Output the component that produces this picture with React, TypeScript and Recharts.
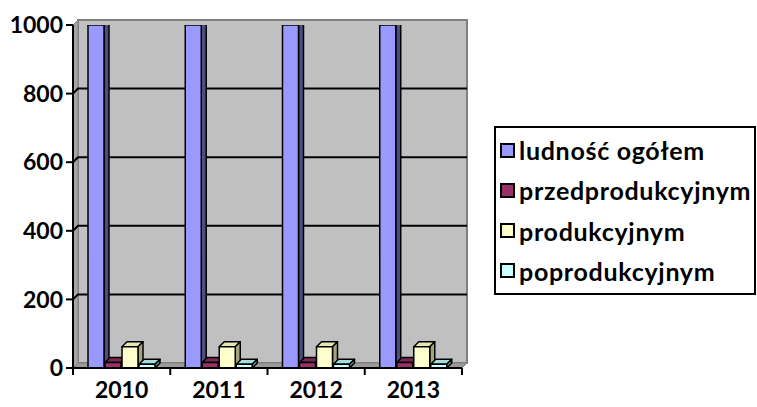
import { BarChart, Bar, XAxis, YAxis } from "recharts";

const years = ["2010", "2011", "2012", "2013"];
const ludnoscOgolem = [1000, 1000, 1000, 1000];
const przedprodukcyjnym = [16, 16, 16, 16];
const produkcyjnym = [62, 62, 62, 62];
const poprodukcyjnym = [11, 11, 11, 11];
const yTicks = [0, 200, 400, 600, 800, 1000];

const series = [
  { key: "ludnosc", name: "ludność ogółem", front: "#9999ff", top: "#7f7fd6", side: "#4d4d80" },
  { key: "przed", name: "przedprodukcyjnym", front: "#993366", top: "#7a2952", side: "#4d1933" },
  { key: "prod", name: "produkcyjnym", front: "#ffffcc", top: "#e6e6b8", side: "#a3a37f" },
  { key: "popr", name: "poprodukcyjnym", front: "#ccffff", top: "#a6dede", side: "#6f9f9f" },
];

const data = years.map((year, i) => ({
  year,
  ludnosc: ludnoscOgolem[i],
  przed: przedprodukcyjnym[i],
  prod: produkcyjnym[i],
  popr: poprodukcyjnym[i],
}));

// plot geometry
const W = 757;
const H = 407;
const LEFT = 73;
const RIGHT = 462;
const TOP = 25;
const BOTTOM = 368;
const D = 5; // 3d depth
const FONT = "Lato, 'Open Sans', sans-serif";

const yPix = (v: number) => BOTTOM - (v / 1000) * (BOTTOM - TOP);

function Walls() {
  return (
    <svg width={W} height={H} style={{ position: "absolute", left: 0, top: 0 }}>
      <rect x={LEFT + D} y={TOP - D} width={RIGHT - LEFT} height={BOTTOM - TOP} fill="#c0c0c0" stroke="#808080" strokeWidth={2} />
      <polygon
        points={`${LEFT},${TOP} ${LEFT + D},${TOP - D} ${LEFT + D},${BOTTOM - D} ${LEFT},${BOTTOM}`}
        fill="#a6a6a6"
        stroke="#808080"
        strokeWidth={1}
      />
      <polygon
        points={`${LEFT},${BOTTOM} ${LEFT + D},${BOTTOM - D} ${RIGHT + D},${BOTTOM - D} ${RIGHT},${BOTTOM}`}
        fill="#9a9a9a"
        stroke="#808080"
        strokeWidth={1}
      />
      {yTicks
        .filter((v) => v > 0 && v < 1000)
        .map((v) => (
          <polyline
            key={v}
            points={`${LEFT},${yPix(v)} ${LEFT + D},${yPix(v) - D} ${RIGHT + D},${yPix(v) - D}`}
            fill="none"
            stroke="#000"
            strokeWidth={2}
          />
        ))}
    </svg>
  );
}

function Bar3D(props: any) {
  const { x, y, width, height, colors } = props;
  if (!height || height <= 0) return null;
  const d = 5;
  return (
    <g stroke="#000" strokeWidth={1.5} strokeLinejoin="round">
      <polygon
        points={`${x},${y} ${x + d},${y - d} ${x + width + d},${y - d} ${x + width},${y}`}
        fill={colors.top}
      />
      <polygon
        points={`${x + width},${y} ${x + width + d},${y - d} ${x + width + d},${y + height - d} ${x + width},${y + height}`}
        fill={colors.side}
      />
      <rect x={x} y={y} width={width} height={height} fill={colors.front} />
    </g>
  );
}

function XTick(props: any) {
  const { x, payload, index } = props;
  const band = (RIGHT - LEFT) / years.length;
  return (
    <g>
      <line x1={x - band / 2} y1={BOTTOM} x2={x - band / 2} y2={BOTTOM + 7} stroke="#000" strokeWidth={2} />
      {index === years.length - 1 && (
        <line x1={x + band / 2} y1={BOTTOM} x2={x + band / 2} y2={BOTTOM + 7} stroke="#000" strokeWidth={2} />
      )}
      <text x={x} y={BOTTOM + 30} textAnchor="middle" fontFamily={FONT} fontWeight={700} fontSize={23} fill="#000">
        {payload.value}
      </text>
    </g>
  );
}

export default function App() {
  return (
    <div style={{ position: "absolute", left: 0, top: 0, width: W, height: H, background: "#fff", overflow: "hidden" }}>
      <Walls />
      <div style={{ position: "absolute", left: 0, top: 0 }}>
        <BarChart
          width={W}
          height={H}
          data={data}
          margin={{ top: TOP, right: W - RIGHT, bottom: 0, left: 0 }}
          barSize={16}
          barGap={1}
        >
          <XAxis
            dataKey="year"
            height={H - BOTTOM}
            axisLine={{ stroke: "#000", strokeWidth: 2 }}
            tickLine={false}
            tick={<XTick />}
            interval={0}
          />
          <YAxis
            width={LEFT}
            domain={[0, 1000]}
            ticks={yTicks}
            allowDataOverflow
            axisLine={{ stroke: "#000", strokeWidth: 2 }}
            tickLine={{ stroke: "#000", strokeWidth: 2 }}
            tickSize={7}
            tickMargin={3}
            tick={{ fontFamily: FONT, fontWeight: 700, fontSize: 23, fill: "#000" }}
          />
          {series.map((s) => (
            <Bar
              key={s.key}
              dataKey={s.key}
              name={s.name}
              fill={s.front}
              isAnimationActive={false}
              shape={(p: any) => <Bar3D {...p} colors={s} />}
            />
          ))}
        </BarChart>
      </div>
      <div
        style={{
          position: "absolute",
          left: 494,
          top: 126,
          width: 262,
          height: 169,
          boxSizing: "border-box",
          border: "2px solid #000",
          background: "#fff",
          display: "flex",
          flexDirection: "column",
          justifyContent: "space-between",
          padding: "7px 0 7px 4px",
          fontFamily: FONT,
          fontWeight: 700,
          fontSize: 25,
          letterSpacing: 0.7,
          lineHeight: "30px",
          color: "#000",
        }}
      >
        {series.map((s) => (
          <div key={s.key} style={{ display: "flex", alignItems: "center", whiteSpace: "nowrap" }}>
            <span
              style={{
                display: "inline-block",
                width: 11,
                height: 11,
                border: "2px solid #000",
                background: s.front,
                marginRight: 4,
                flexShrink: 0,
              }}
            />
            {s.name}
          </div>
        ))}
      </div>
    </div>
  );
}
